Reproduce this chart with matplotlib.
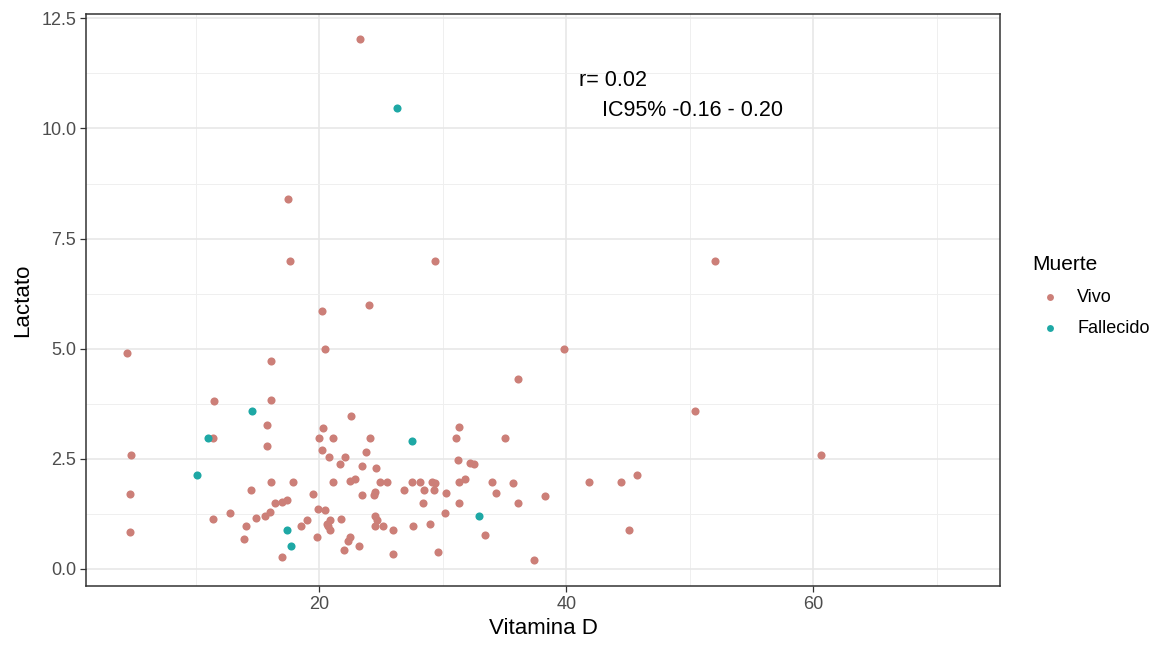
import matplotlib
matplotlib.use('Agg')
import matplotlib.pyplot as plt
from matplotlib.ticker import MultipleLocator, FormatStrFormatter

plt.rcParams['font.family'] = ['Liberation Sans', 'DejaVu Sans']

# Vitamina D vs Lactato, por grupo de Muerte
vivo_x = [4.45, 16.1, 11.5, 16.1, 15.8, 11.4, 15.8, 4.8, 16.1, 14.5, 4.7, 16.4,
          12.8, 11.4, 16.0, 15.65, 14.9, 14.1, 13.9, 4.7, 17.0,
          20.2, 24.0, 20.5, 22.6, 20.3, 20.0, 21.1, 24.1, 20.2, 20.8, 22.1, 23.8,
          21.7, 23.5, 24.6, 17.9, 21.1, 22.5, 22.9, 24.9, 25.5, 27.5, 28.2, 29.1,
          29.4, 26.9, 28.5, 29.3, 24.5, 24.4, 23.5, 19.5, 17.0, 17.4, 28.4, 19.9,
          20.5, 19.05, 18.5, 19.8, 20.6, 20.9, 20.7, 20.9, 21.8, 22.5, 22.3, 22.0,
          23.2, 24.5, 24.7, 24.5, 25.2, 26.0, 26.0, 27.6, 29.0, 29.6,
          39.8, 36.1, 31.3, 31.1, 35.0, 31.2, 32.2, 32.5, 31.3, 31.8, 30.3, 34.0,
          35.7, 34.3, 31.3, 36.1, 38.3, 41.8, 30.2, 33.4, 37.4,
          52.0, 50.4, 60.6, 44.4, 45.7, 45.1,
          23.3, 17.5, 17.6, 29.4]
vivo_y = [4.9, 4.73, 3.8, 3.84, 3.27, 2.98, 2.8, 2.58, 1.98, 1.8, 1.69, 1.49,
          1.27, 1.13, 1.28, 1.19, 1.16, 0.98, 0.67, 0.84, 0.27,
          5.86, 6.0, 5.0, 3.48, 3.2, 2.98, 2.98, 2.98, 2.69, 2.55, 2.55, 2.66,
          2.38, 2.34, 2.3, 1.98, 1.98, 2.0, 2.04, 1.98, 1.98, 1.98, 1.98, 1.98,
          1.95, 1.8, 1.8, 1.8, 1.75, 1.68, 1.67, 1.7, 1.52, 1.57, 1.49, 1.36,
          1.33, 1.1, 0.98, 0.73, 1.02, 1.1, 0.98, 0.89, 1.13, 0.73, 0.63, 0.42,
          0.52, 1.2, 1.1, 0.98, 0.98, 0.89, 0.34, 0.98, 1.02, 0.38,
          5.0, 4.3, 3.23, 2.98, 2.98, 2.48, 2.41, 2.38, 1.98, 2.03, 1.73, 1.98,
          1.95, 1.73, 1.49, 1.49, 1.66, 1.98, 1.27, 0.77, 0.2,
          7.0, 3.58, 2.58, 1.98, 2.12, 0.88,
          12.03, 8.39, 7.0, 7.0]

fallecido_x = [14.6, 11.0, 10.15, 27.5, 17.4, 17.7, 32.9, 26.3]
fallecido_y = [3.58, 2.98, 2.12, 2.9, 0.88, 0.52, 1.19, 10.46]

groups = ['Vivo', 'Fallecido']
colors = ['#cc7f78', '#1ea8a5']
anno_r = 'r= 0.02'
anno_ic = 'IC95% -0.16 - 0.20'

fig = plt.figure(figsize=(11.7, 6.47), dpi=100)
ax = fig.add_axes([0.0735, 0.0943, 0.7812, 0.8841])

ax.scatter(vivo_x, vivo_y, s=34, color=colors[0], linewidths=0, label=groups[0], zorder=3)
ax.scatter(fallecido_x, fallecido_y, s=34, color=colors[1], linewidths=0, label=groups[1], zorder=3)

ax.text(41.05, 11.1, anno_r, fontsize=15.5, color='black', va='center', ha='left')
ax.text(42.9, 10.4, anno_ic, fontsize=15.5, color='black', va='center', ha='left')

ax.set_xlim(1.13, 75.1)
ax.set_ylim(-0.39, 12.6)
ax.xaxis.set_major_locator(MultipleLocator(20))
ax.xaxis.set_minor_locator(MultipleLocator(10))
ax.yaxis.set_major_locator(MultipleLocator(2.5))
ax.yaxis.set_minor_locator(MultipleLocator(1.25))
ax.yaxis.set_major_formatter(FormatStrFormatter('%.1f'))

ax.grid(which='major', color='#e6e6e6', linewidth=1.1, zorder=0)
ax.grid(which='minor', color='#efefef', linewidth=0.7, zorder=0)
ax.set_axisbelow(True)
ax.tick_params(which='major', length=4, width=0.9, color='#333333',
               labelsize=13, labelcolor='#4d4d4d', pad=3)
ax.tick_params(which='minor', length=0)
for sp in ax.spines.values():
    sp.set_color('#333333')
    sp.set_linewidth(1.1)

ax.set_xlabel('Vitamina D', fontsize=16, labelpad=4)
ax.set_ylabel('Lactato', fontsize=16, labelpad=6)

leg = fig.legend(loc='upper left', bbox_to_anchor=(1016 / 1170, 1 - 239 / 647),
                 title='Muerte', frameon=False, fontsize=13, title_fontsize=15,
                 markerscale=0.85, handletextpad=0.5, labelspacing=0.8)
leg._legend_box.align = 'left'

fig.savefig('out.png', dpi=100)
